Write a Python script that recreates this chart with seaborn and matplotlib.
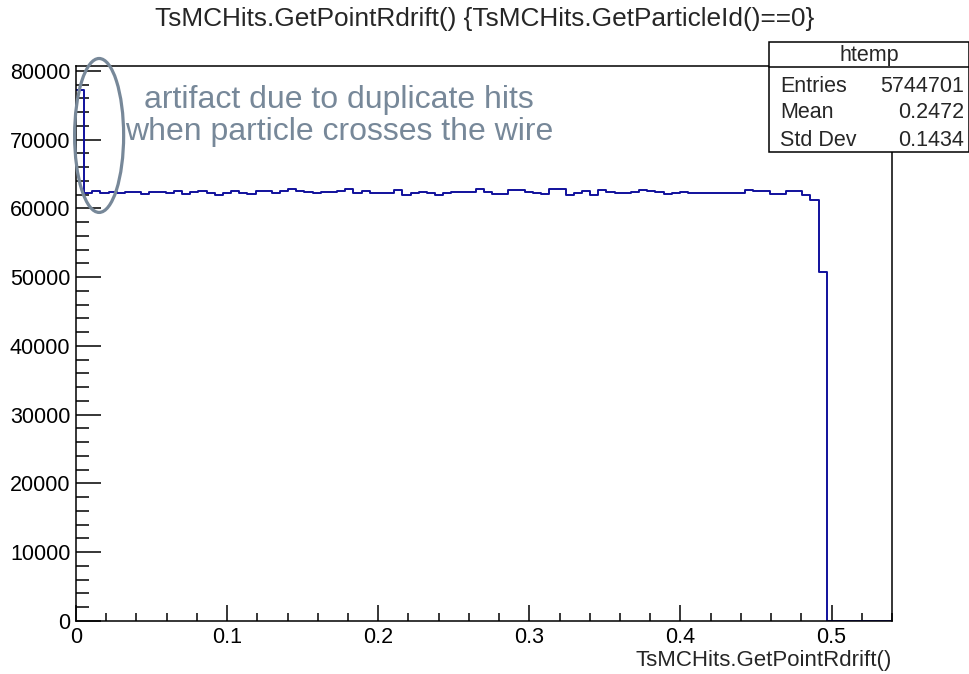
import numpy as np
import pandas as pd
import matplotlib
matplotlib.use("Agg")
import matplotlib.pyplot as plt
from matplotlib.patches import Ellipse, Rectangle
from matplotlib.ticker import MultipleLocator
import seaborn as sns

# ---- data ----
title = "TsMCHits.GetPointRdrift() {TsMCHits.GetParticleId()==0}"
xlabel = "TsMCHits.GetPointRdrift()"
hist_name = "htemp"
stat_labels = ["Entries", "Mean", "Std Dev"]
stat_values = ["5744701", "0.2472", "0.1434"]
note_text = "artifact due to duplicate hits\nwhen particle crosses the wire"
n_bins_total = 100
x_min, x_max = 0.0, 0.54
counts = [
    77200, 62250, 62500, 62200, 62350, 62250, 62450, 62450, 62150, 62450, 62400, 62200, 62500, 62150, 62400, 62550,
    62250, 61950, 62250, 62500, 62250, 62050, 62500, 62500, 62250, 62500, 62750, 62500, 62400, 62250, 62400,
    62400, 62500, 62750, 62200, 62500, 62300, 62300, 62300, 62600, 62000, 62200, 62400, 62200, 62000, 62300, 62450,
    62450, 62400, 62750, 62400, 62150, 62150, 62650, 62650, 62400, 62250, 62050, 62750, 62750, 62000, 62200,
    62500, 62000, 62650, 62400, 62250, 62250, 62400, 62700, 62500, 62400, 62150, 62250, 62400, 62250, 62250,
    62250, 62300, 62300, 62250, 62250, 62600, 62550, 62500, 62150, 62150, 62500, 62500, 62000, 61200, 50750,
    0, 0, 0, 0, 0, 0, 0, 0,
]
y_max = 80700

edges = np.linspace(x_min, x_max, n_bins_total + 1)
centers = 0.5 * (edges[:-1] + edges[1:])
df = pd.DataFrame({"r": centers, "n": np.asarray(counts, dtype=float)})

# ---- style ----
sns.set_style("ticks")
plt.rcParams["font.family"] = ["Liberation Sans", "DejaVu Sans"]

W, H = 970, 674
fig = plt.figure(figsize=(W / 100, H / 100), dpi=100)
ax = fig.add_axes([76 / W, (H - 621) / H, (892 - 76) / W, (621 - 66) / H])

sns.histplot(data=df, x="r", weights="n", bins=list(edges), element="step", fill=False,
             color="#10109c", linewidth=1.4, ax=ax)

ax.set_xlim(x_min, x_max)
ax.set_ylim(0, y_max)
ax.set_ylabel("")
ax.set_xlabel(xlabel, loc="right", fontsize=16, labelpad=2)
ax.xaxis.set_minor_locator(MultipleLocator(0.02))
ax.yaxis.set_major_locator(MultipleLocator(10000))
ax.yaxis.set_minor_locator(MultipleLocator(2000))
ax.set_xticks([0, 0.1, 0.2, 0.3, 0.4, 0.5])
ax.set_xticklabels(["0", "0.1", "0.2", "0.3", "0.4", "0.5"])

ax.tick_params(axis="both", which="both", direction="in", width=1.1, colors="black",
               labelsize=15.5, top=False, right=False)
ax.tick_params(axis="x", which="major", length=11.5, pad=4)
ax.tick_params(axis="x", which="minor", length=5.8)
ax.tick_params(axis="y", which="major", length=18, pad=4)
ax.tick_params(axis="y", which="minor", length=9)
for s in ax.spines.values():
    s.set_visible(True)
    s.set_linewidth(1.1)
    s.set_color("black")

fig.text(0.5, 1 - 19 / H, title, ha="center", va="center", fontsize=18.9)

# annotation ellipse and text
note_color = "#778899"
ell = Ellipse((0.0153, 70600), width=49 / 1510, height=154 / 68.8 * 10000,
              fill=False, edgecolor=note_color, linewidth=2.3, clip_on=False, zorder=5)
ax.add_patch(ell)
fig.text(339 / W, 1 - 116 / H, note_text, ha="center", va="center", fontsize=23,
         color=note_color, linespacing=1.08)

# stats box
bx0, bx1, by0, by1 = 769, 969, 42, 152
fig.patches.append(Rectangle((bx0 / W, 1 - by1 / H), (bx1 - bx0) / W, (by1 - by0) / H,
                             transform=fig.transFigure, facecolor="white", edgecolor="black",
                             linewidth=1.1, zorder=10))
fig.lines.append(plt.Line2D([bx0 / W, bx1 / W], [1 - 67 / H, 1 - 67 / H],
                            transform=fig.transFigure, color="black", linewidth=1.1, zorder=11))
fig.text((bx0 + bx1) / 2 / W, 1 - 56 / H, hist_name, ha="center", va="center", fontsize=15.5, zorder=12)
for i, (lab, val) in enumerate(zip(stat_labels, stat_values)):
    y = 1 - (86 + 27 * i) / H
    fig.text(780 / W, y, lab, ha="left", va="center", fontsize=15.5, zorder=12)
    fig.text(964 / W, y, val, ha="right", va="center", fontsize=15.5, zorder=12)

fig.savefig("out.png", dpi=100)
